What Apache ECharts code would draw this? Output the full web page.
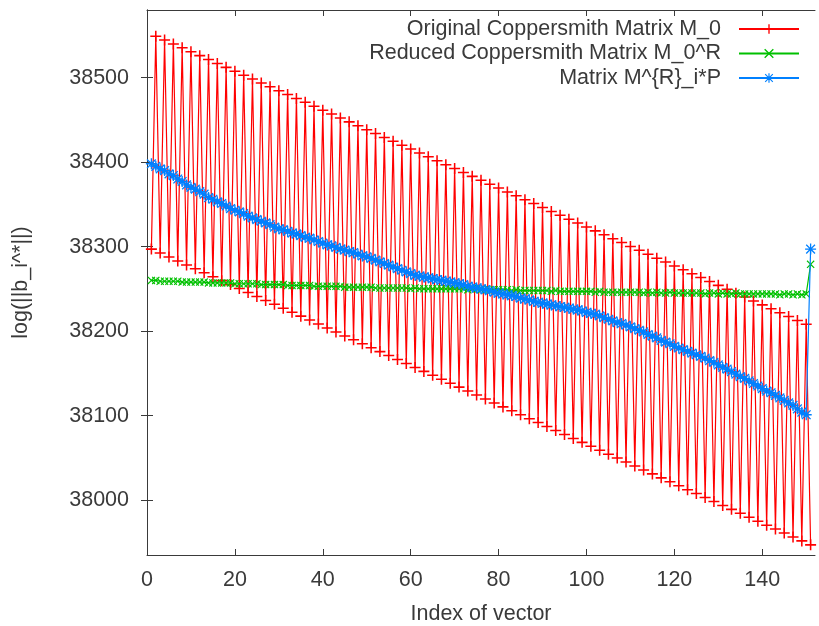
<!DOCTYPE html>
<html>
<head>
<meta charset="utf-8">
<script src="https://cdn.jsdelivr.net/npm/echarts@6/dist/echarts.min.js"></script>
<style>html,body{margin:0;padding:0;background:#fff;}#c{width:819px;height:626px;}</style>
</head>
<body>
<div id="c"></div>
<script>
// ---- data (index of vector starts at 1) ----
const seriesNames = ["Original Coppersmith Matrix M_0", "Reduced Coppersmith Matrix M_0^R", "Matrix M^{R}_i*P"];
const xTicks = [0, 20, 40, 60, 80, 100, 120, 140];
const yTicks = [38000, 38100, 38200, 38300, 38400, 38500];

// Original matrix: values at odd indices (1,3,...,151)
const origOdd = [38297.0,38292.3,38287.7,38283.0,38278.3,38273.7,38269.0,38264.3,38259.7,38255.0,
38250.3,38245.7,38241.0,38236.3,38231.7,38227.0,38222.3,38217.7,38213.0,38208.3,
38203.7,38199.0,38194.3,38189.7,38185.0,38180.3,38175.7,38171.0,38166.3,38161.7,
38157.0,38152.3,38147.7,38143.0,38138.3,38133.7,38129.0,38124.3,38119.7,38115.0,
38110.3,38105.7,38101.0,38096.3,38091.7,38087.0,38082.3,38077.7,38073.0,38068.3,
38063.7,38059.0,38054.3,38049.7,38045.0,38040.3,38035.7,38031.0,38026.3,38021.7,
38017.0,38012.3,38007.7,38003.0,37998.3,37993.7,37989.0,37984.3,37979.7,37975.0,
37970.3,37965.7,37961.0,37956.3,37951.7,37947.0];
// Original matrix: values at even indices (2,4,...,150)
const origEven = [38549.0,38544.4,38539.8,38535.2,38530.6,38526.0,38521.4,38516.7,38512.1,38507.5,
38502.9,38498.3,38493.7,38489.1,38484.5,38479.9,38475.3,38470.7,38466.1,38461.4,
38456.8,38452.2,38447.6,38443.0,38438.4,38433.8,38429.2,38424.6,38420.0,38415.4,
38410.8,38406.2,38401.5,38396.9,38392.3,38387.7,38383.1,38378.5,38373.9,38369.3,
38364.7,38360.1,38355.5,38350.9,38346.2,38341.6,38337.0,38332.4,38327.8,38323.2,
38318.6,38314.0,38309.4,38304.8,38300.2,38295.6,38291.0,38286.3,38281.7,38277.1,
38272.5,38267.9,38263.3,38258.7,38254.1,38249.5,38244.9,38240.3,38235.7,38231.0,
38226.4,38221.8,38217.2,38212.6,38208.0];

const reduced = [38260,38260,38259,38259,38259,38259,38259,38258,38258,38258,
38258,38258,38258,38257,38257,38257,38257,38257,38257,38256,
38256,38256,38256,38256,38256,38255,38255,38255,38255,38255,
38255,38254,38254,38254,38254,38254,38254,38253,38253,38253,
38253,38253,38253,38253,38252,38252,38252,38252,38252,38252,
38252,38251,38251,38251,38251,38251,38251,38251,38251,38250,
38251,38250,38250,38250,38250,38250,38250,38250,38250,38250,
38250,38250,38249,38250,38250,38249,38249,38249,38249,38249,
38249,38249,38248,38249,38248,38248,38248,38248,38248,38248,
38248,38247,38248,38247,38247,38247,38247,38247,38247,38247,
38247,38246,38247,38246,38246,38246,38246,38246,38246,38246,
38246,38246,38245,38246,38245,38246,38245,38245,38246,38245,
38245,38245,38245,38245,38245,38245,38244,38245,38245,38244,
38245,38244,38244,38245,38244,38244,38244,38244,38244,38244,
38244,38244,38244,38243,38244,38244,38243,38244,38243,38244,
38279];

const permuted = [38398,38395,38392,38390,38386,38384,38380,38377,38373,38370,
38368,38365,38362,38358,38356,38353,38351,38348,38345,38343,
38341,38339,38336,38334,38332,38330,38328,38326,38323,38321,
38320,38318,38316,38315,38313,38311,38310,38308,38306,38304,
38302,38301,38299,38297,38296,38294,38293,38291,38289,38288,
38286,38284,38282,38280,38278,38276,38274,38272,38270,38268,
38266,38265,38264,38263,38262,38261,38260,38259,38258,38257,
38256,38255,38253,38252,38251,38250,38249,38248,38246,38245,
38244,38243,38242,38241,38239,38238,38237,38235,38234,38233,
38232,38231,38230,38229,38228,38227,38226,38225,38224,38222,
38221,38220,38218,38216,38214,38212,38210,38209,38207,38205,
38203,38201,38199,38196,38194,38192,38189,38187,38185,38182,
38180,38178,38176,38174,38172,38170,38168,38165,38163,38160,
38157,38155,38152,38149,38146,38144,38141,38138,38135,38132,
38129,38127,38124,38121,38118,38115,38112,38108,38104,38101,
38297];

// ---- build series tables ----
const origData = [];
for (let i = 1; i <= 151; i++) {
  origData.push([i, (i % 2 === 1) ? origOdd[(i - 1) / 2] : origEven[i / 2 - 1]]);
}
const redData = reduced.map((v, k) => [k + 1, v]);
const blueData = permuted.map((v, k) => [k + 1, v]);

const PLUS = 'path://M8.6,0H11.4V8.6H20V11.4H11.4V20H8.6V11.4H0V8.6H8.6Z';
const CROSS = 'path://M0,2L2,0L10,8L18,0L20,2L12,10L20,18L18,20L10,12L2,20L0,18L8,10Z';
const STAR = 'path://M8.8,0H11.2V8.8H20V11.2H11.2V20H8.8V11.2H0V8.8H8.8Z M2.9,1.2L10,8.3L17.1,1.2L18.8,2.9L11.7,10L18.8,17.1L17.1,18.8L10,11.7L2.9,18.8L1.2,17.1L8.3,10L1.2,2.9Z';

const FONT = 'Liberation Sans';
const AX = '#3a3a3a';
const FS = 21.5;
const plain = v => String(v);

const chart = echarts.init(document.getElementById('c'), null, {renderer: 'canvas'});
const xBase = {
  type: 'value', min: 0, max: 152,
  axisLine: {show: true, lineStyle: {color: AX, width: 1}},
  axisTick: {show: true, inside: true, length: 6, customValues: xTicks, lineStyle: {color: AX}},
  splitLine: {show: false}
};
const yBase = {
  type: 'value', min: 37935, max: 38580,
  axisLine: {show: true, lineStyle: {color: AX, width: 1}},
  axisTick: {show: true, inside: true, length: 6, customValues: yTicks, lineStyle: {color: AX}},
  splitLine: {show: false}
};
chart.setOption({
  animation: false,
  backgroundColor: '#ffffff',
  textStyle: {fontFamily: FONT},
  grid: {left: 147, right: 4, top: 10, bottom: 71, containLabel: false, outerBoundsMode: 'none'},
  legend: {
    orient: 'vertical', right: 14, top: 13, align: 'right',
    itemWidth: 60, itemHeight: 12, itemGap: 2.5,
    data: seriesNames,
    textStyle: {fontFamily: FONT, fontSize: FS, color: AX, lineHeight: 22, padding: [0, 13, 0, 0]}
  },
  xAxis: [
    Object.assign({}, xBase, {
      position: 'bottom',
      name: 'Index of vector', nameLocation: 'middle', nameGap: 48,
      nameTextStyle: {fontFamily: FONT, fontSize: FS, color: AX},
      axisLabel: {show: true, customValues: xTicks, formatter: plain, margin: 14, fontFamily: FONT, fontSize: FS, color: AX}
    }),
    Object.assign({}, xBase, {position: 'top', axisLabel: {show: false}})
  ],
  yAxis: [
    Object.assign({}, yBase, {
      position: 'left',
      name: 'log(||b_i^*||)', nameLocation: 'middle', nameGap: 115, nameRotate: 90,
      nameTextStyle: {fontFamily: FONT, fontSize: FS, color: AX},
      axisLabel: {show: true, customValues: yTicks, formatter: plain, margin: 18, fontFamily: FONT, fontSize: FS, color: AX}
    }),
    Object.assign({}, yBase, {position: 'right', axisLabel: {show: false}})
  ],
  series: [
    {
      name: seriesNames[0], type: 'line', data: origData, xAxisIndex: 0, yAxisIndex: 0,
      symbol: PLUS, symbolSize: 11, showAllSymbol: true, silent: true,
      lineStyle: {color: '#ff0000', width: 1.2}, itemStyle: {color: '#ff0000'}, z: 2
    },
    {
      name: seriesNames[1], type: 'line', data: redData, xAxisIndex: 0, yAxisIndex: 0,
      symbol: CROSS, symbolSize: 8, showAllSymbol: true, silent: true,
      lineStyle: {color: '#00c000', width: 1.2}, itemStyle: {color: '#00c000'}, z: 3
    },
    {
      name: seriesNames[2], type: 'line', data: blueData, xAxisIndex: 0, yAxisIndex: 0,
      symbol: STAR, symbolSize: 11, showAllSymbol: true, silent: true,
      lineStyle: {color: '#0080ff', width: 1.2}, itemStyle: {color: '#0080ff'}, z: 4
    }
  ]
});
</script>
</body>
</html>
